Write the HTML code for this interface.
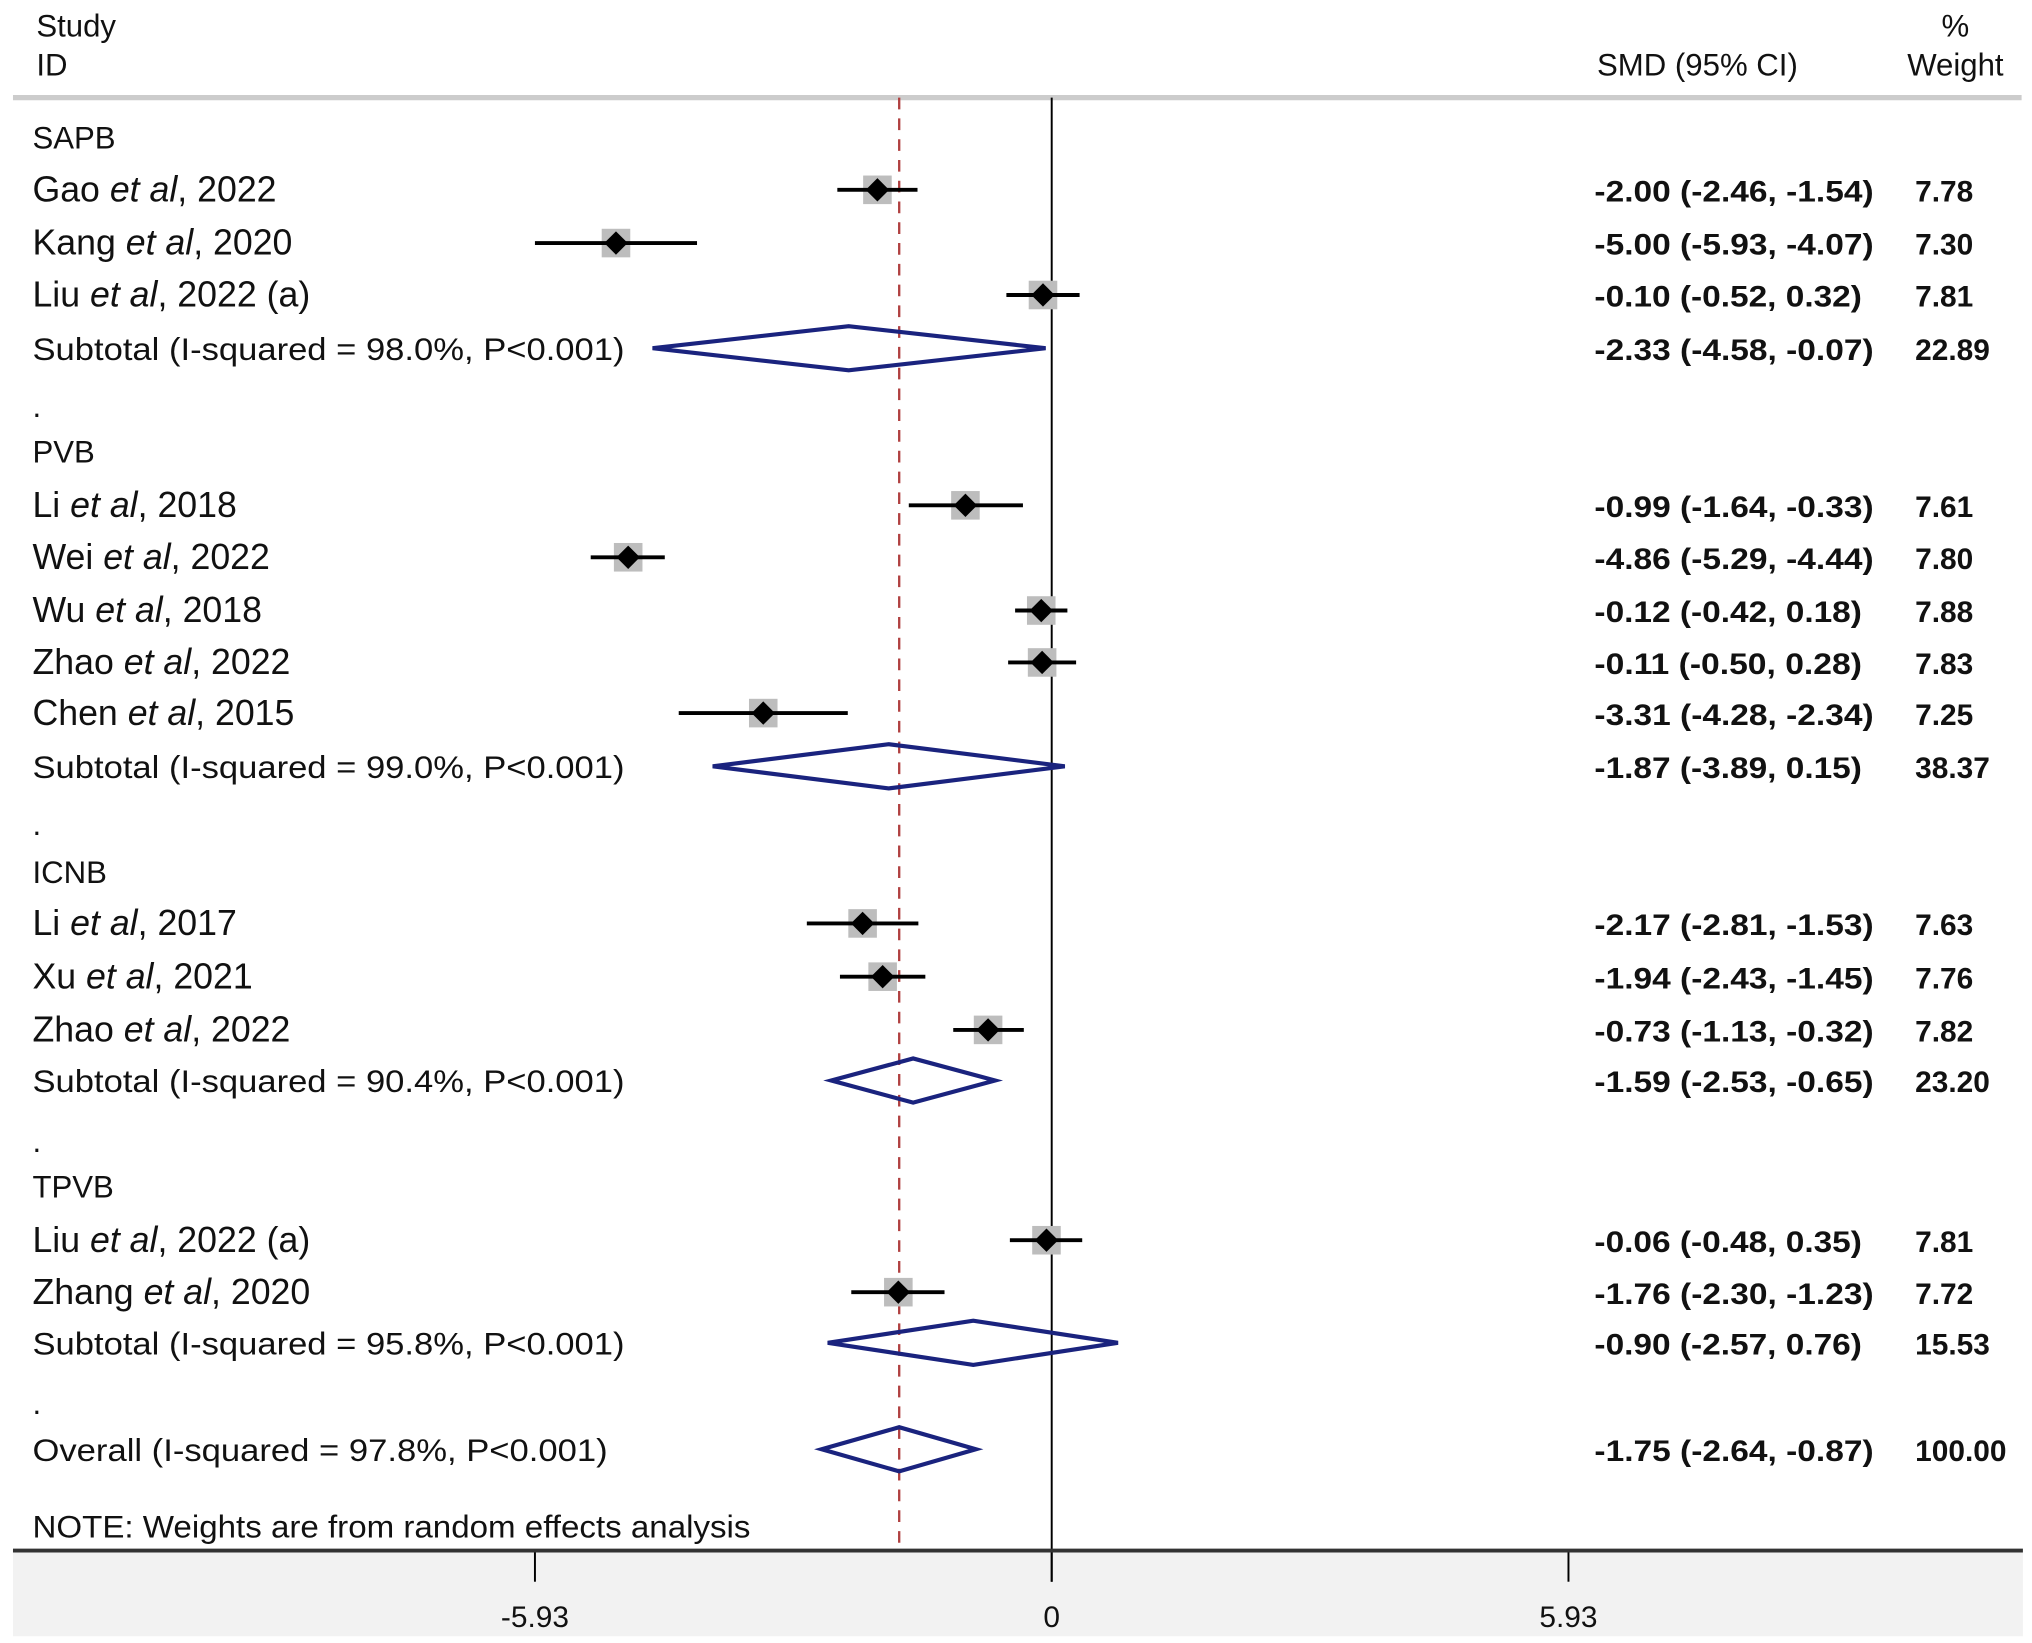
<!DOCTYPE html>
<html><head><meta charset="utf-8"><style>
html,body{margin:0;padding:0;background:#fff;}
svg{display:block;}
text{font-family:"Liberation Sans",Arial,sans-serif;fill:#111;}
</style></head>
<body>
<svg id="chart" width="2032" height="1643" viewBox="0 0 1565 1265" xmlns="http://www.w3.org/2000/svg">
<rect x="0" y="0" width="1565" height="1265" fill="#fff"/>
<rect x="10" y="1195" width="1548" height="65" fill="#f2f2f2"/>
<text x="28" y="28" font-size="24">Study</text>
<text x="28" y="58" font-size="24">ID</text>
<text x="1230" y="58" font-size="24">SMD (95% CI)</text>
<text x="1506" y="28" font-size="24" text-anchor="middle">%</text>
<text x="1506" y="58" font-size="24" text-anchor="middle">Weight</text>
<line x1="10" y1="75" x2="1557" y2="75" stroke="#ccc" stroke-width="4"/>
<g id="plot"></g>
<line x1="10" y1="1194" x2="1558" y2="1194" stroke="#333" stroke-width="3"/>
</svg>
<script>
const labels=["SAPB","Gao|2022","Kang|2020","Liu|2022 (a)","Subtotal  (I-squared = 98.0%, P<0.001)",".","PVB","Li|2018","Wei|2022","Wu|2018","Zhao|2022","Chen|2015","Subtotal  (I-squared = 99.0%, P<0.001)",".","ICNB","Li|2017","Xu|2021","Zhao|2022","Subtotal  (I-squared = 90.4%, P<0.001)",".","TPVB","Liu|2022 (a)","Zhang|2020","Subtotal  (I-squared = 95.8%, P<0.001)",".","Overall  (I-squared = 97.8%, P<0.001)"];
const kinds=["h","s","s","s","d","b","h","s","s","s","s","s","d","b","h","s","s","s","d","b","h","s","s","d","b","o"];
const est=[null,-2.00,-5.00,-0.10,-2.33,null,null,-0.99,-4.86,-0.12,-0.11,-3.31,-1.87,null,null,-2.17,-1.94,-0.73,-1.59,null,null,-0.06,-1.76,-0.90,null,-1.75];
const lo=[null,-2.46,-5.93,-0.52,-4.58,null,null,-1.64,-5.29,-0.42,-0.50,-4.28,-3.89,null,null,-2.81,-2.43,-1.13,-2.53,null,null,-0.48,-2.30,-2.57,null,-2.64];
const hi=[null,-1.54,-4.07,0.32,-0.07,null,null,-0.33,-4.44,0.18,0.28,-2.34,0.15,null,null,-1.53,-1.45,-0.32,-0.65,null,null,0.35,-1.23,0.76,null,-0.87];
const weights=[null,7.78,7.30,7.81,22.89,null,null,7.61,7.80,7.88,7.83,7.25,38.37,null,null,7.63,7.76,7.82,23.20,null,null,7.81,7.72,15.53,null,100.00];
const rowY=[105,146,187,227,268,312,347,389,429,470,510,549,590,634,671,711,752,793,832,878,913,955,995,1034,1080,1116];
const ticks=[-5.93,0,5.93];
const tickLabels=["-5.93","0","5.93"];
const overallEst=-1.75;

const NS="http://www.w3.org/2000/svg";
const g=document.getElementById('plot');
const X=v=>810+v*(398/5.93);
function el(t,a){const e=document.createElementNS(NS,t);for(const k in a)e.setAttribute(k,a[k]);g.appendChild(e);return e;}
const f=v=>v.toFixed(2);

const ref=el('line',{x1:X(0),y1:75,x2:X(0),y2:1218,stroke:'#000','stroke-width':1.5});


const dash=el('line',{x1:X(overallEst),y1:75,x2:X(overallEst),y2:1193,stroke:'#b04040','stroke-width':1.8,'stroke-dasharray':'9,7'});



for(let i=0;i<labels.length;i++){
  const y=rowY[i],k=kinds[i];
  const t=el('text',{x:25,y:y+9,'font-size':k==='s'?27.5:24});
  
  
  if(k==='s'){
    const p=labels[i].split('|');
    t.appendChild(document.createTextNode(p[0]+' '));
    const it=document.createElementNS(NS,'tspan');it.setAttribute('font-style','italic');it.textContent='et al';t.appendChild(it);
    t.appendChild(document.createTextNode(', '+p[1]));
  } else if(k==='d'||k==='o'){
    t.textContent=labels[i];
    t.setAttribute('textLength',k==='o'?443:456);
    t.setAttribute('lengthAdjust','spacingAndGlyphs');
  } else t.textContent=labels[i];
  if(est[i]===null) continue;
  const ci=el('text',{x:1228,y:y+9,'font-size':23,'font-weight':'bold',textLength:(f(hi[i]).length>4?215:206),lengthAdjust:'spacingAndGlyphs'});
  
  
  ci.textContent=f(est[i])+' ('+f(lo[i])+', '+f(hi[i])+')';
  const w=el('text',{x:1475,y:y+9,'font-size':23,'font-weight':'bold'});
  
  
  w.textContent=f(weights[i]);
  if(k==='s'){
    const sq=el('rect',{x:X(est[i])-11,y:y-11,width:22,height:22,fill:'#bdbdbd'});
    
    
    const l=el('line',{x1:X(lo[i]),y1:y,x2:X(hi[i]),y2:y,stroke:'#000','stroke-width':3});
    
    
    const c=X(est[i]);
    const d=el('polygon',{points:`${c},${y-9} ${c+9},${y} ${c},${y+9} ${c-9},${y}`,fill:'#000'});
    
    
  } else {
    const c=X(est[i]),h=17;
    const d=el('polygon',{points:`${X(lo[i])},${y} ${c},${y-h} ${X(hi[i])},${y} ${c},${y+h}`,fill:'none',stroke:'#1a237e','stroke-width':3.2});
    
    
  }
}
const note=el('text',{x:25,y:1184,'font-size':24,textLength:553,lengthAdjust:'spacingAndGlyphs'});


note.textContent='NOTE: Weights are from random effects analysis';
ticks.forEach((v,i)=>{
  const tk=el('line',{x1:X(v),y1:1194,x2:X(v),y2:1218,stroke:'#000','stroke-width':1.5});
  
  
  const tl=el('text',{x:X(v),y:1253,'font-size':23,'text-anchor':'middle'});
  
  
  tl.textContent=tickLabels[i];
});
</script>
</body></html>
